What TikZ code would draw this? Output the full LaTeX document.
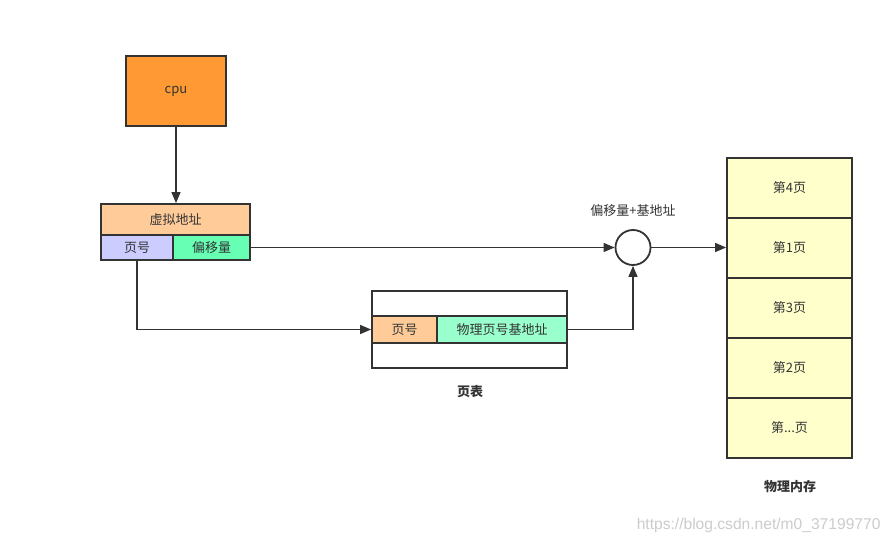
\documentclass[tikz,border=0pt]{standalone}
\usepackage{fontspec}
\setmainfont{Noto Sans CJK SC}
\newfontfamily\wmfont{Liberation Sans}
\usetikzlibrary{arrows.meta}
\definecolor{ln}{HTML}{333333}
\definecolor{cpuor}{HTML}{FF9933}
\definecolor{peach}{HTML}{FFCC99}
\definecolor{lav}{HTML}{CCCCFF}
\definecolor{mint}{HTML}{66FFB3}
\definecolor{mint2}{HTML}{99FFCC}
\definecolor{cream}{HTML}{FFFFCC}
\definecolor{txt}{HTML}{333333}
\begin{document}
\begin{tikzpicture}[x=1pt,y=-1pt,
  box/.style={draw=ln,line width=1.8pt,text=txt,font=\fontsize{13}{15}\selectfont},
  conn/.style={draw=ln,line width=1.4pt,-{Triangle[length=11pt,width=9pt]}},
  lab/.style={text=txt,font=\fontsize{13}{15}\selectfont}]
\useasboundingbox[fill=white] (0,0) rectangle (891,545);
% cpu
\node[box,fill=cpuor,minimum width=100pt,minimum height=70pt] (cpu) at (176,91) {cpu};
% virtual address
\node[box,fill=peach,minimum width=149pt,minimum height=31pt] (va) at (175.5,219.5) {虚拟地址};
\node[box,fill=lav,minimum width=72pt,minimum height=25pt] (pn) at (137,247.5) {页号};
\node[box,fill=mint,minimum width=77pt,minimum height=25pt] (off) at (211.5,247.5) {偏移量};
% adder
\node[draw=ln,line width=1.8pt,circle,minimum size=35pt,inner sep=0pt] (add) at (633,247.5) {};
\node[lab] (addl) at (633,211) {偏移量+基地址};
% page table
\node[box,minimum width=195pt,minimum height=25pt] (pt1) at (469.5,303.5) {};
\node[box,fill=peach,minimum width=65pt,minimum height=27pt] (ptn) at (404.5,329.5) {页号};
\node[box,fill=mint2,minimum width=130pt,minimum height=27pt] (ptb) at (502,329.5) {物理页号基地址};
\node[box,minimum width=195pt,minimum height=25pt] (pt3) at (469.5,355.5) {};
\node[lab,font=\fontsize{13}{15}\selectfont\bfseries] (ptl) at (470,392) {页表};
% physical memory
\node[box,fill=cream,minimum width=125pt,minimum height=60pt] (m1) at (789.5,188) {第4页};
\node[box,fill=cream,minimum width=125pt,minimum height=60pt] (m2) at (789.5,248) {第1页};
\node[box,fill=cream,minimum width=125pt,minimum height=60pt] (m3) at (789.5,308) {第3页};
\node[box,fill=cream,minimum width=125pt,minimum height=60pt] (m4) at (789.5,368) {第2页};
\node[box,fill=cream,minimum width=125pt,minimum height=60pt] (m5) at (789.5,428) {第...页};
\node[lab,font=\fontsize{13}{15}\selectfont\bfseries] (mem) at (790,487) {物理内存};
% watermark
\node[text=black!20,font=\wmfont\fontsize{15.6}{17}\selectfont,anchor=east] (wm) at (884,525) {https://blog.csdn.net/m0\_37199770};
% connectors
\draw[conn] (cpu.south) -- (cpu.south |- va.north);
\draw[conn] (off.east) -- (add.west);
\draw[conn] (add.east) -- (add.east -| m2.west);
\draw[conn] (pn.south) |- (ptn.west);
\draw[conn] (ptb.east) -| (add.south);
\end{tikzpicture}
\end{document}
